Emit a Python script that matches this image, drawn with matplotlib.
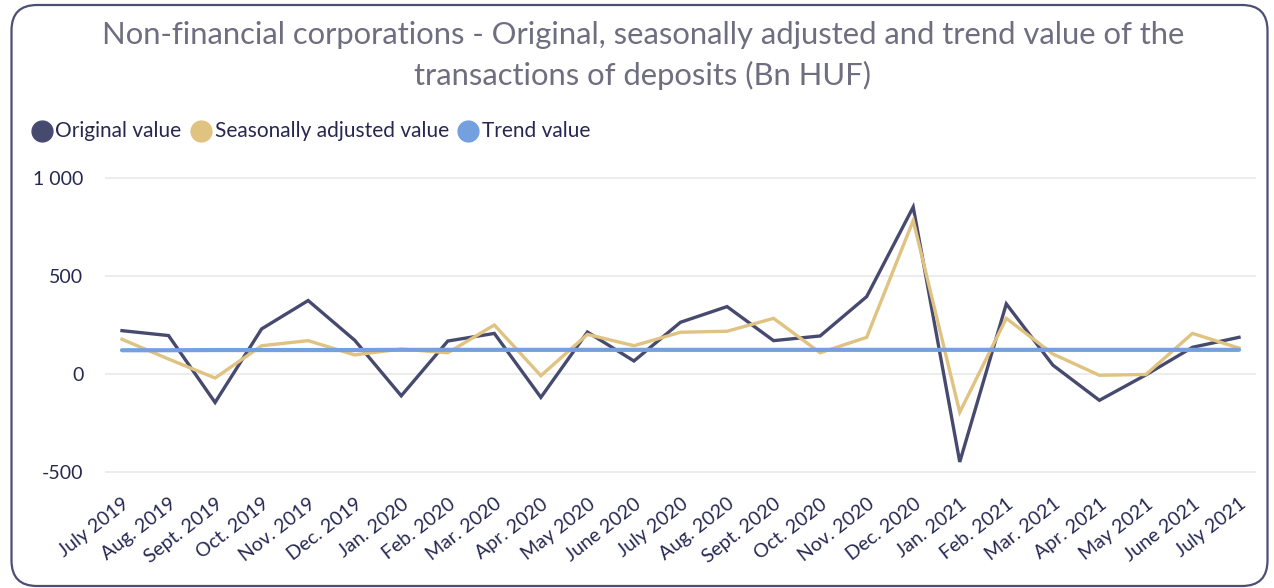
import matplotlib
matplotlib.use("Agg")
import matplotlib.pyplot as plt
from matplotlib.lines import Line2D
from matplotlib.patches import FancyBboxPatch
from matplotlib.transforms import ScaledTranslation

plt.rcParams['font.family'] = ['Lato', 'DejaVu Sans']

categories = ["July 2019", "Aug. 2019", "Sept. 2019", "Oct. 2019", "Nov. 2019", "Dec. 2019",
              "Jan. 2020", "Feb. 2020", "Mar. 2020", "Apr. 2020", "May 2020", "June 2020",
              "July 2020", "Aug. 2020", "Sept. 2020", "Oct. 2020", "Nov. 2020", "Dec. 2020",
              "Jan. 2021", "Feb. 2021", "Mar. 2021", "Apr. 2021", "May 2021", "June 2021", "July 2021"]
original = [220, 195, -147, 229, 374, 171, -113, 167, 206, -121, 213, 65,
            263, 343, 169, 193, 394, 852, -451, 357, 44, -136, -6, 135, 186]
seasonal = [176, 75, -22, 143, 169, 96, 126, 107, 249, -10, 201, 143,
            212, 217, 283, 107, 186, 783, -197, 283, 101, -8, -4, 206, 131]
trend = [120, 120, 121, 121, 121, 121, 122, 122, 122, 122, 122, 122,
         122, 122, 122, 122, 122, 122, 122, 122, 122, 122, 122, 122, 122]
series_names = ["Original value", "Seasonally adjusted value", "Trend value"]
yticks = [-500, 0, 500, 1000]
ytick_labels = ["-500", "0", "500", "1 000"]

C_ORIG = '#474A6F'
C_SEAS = '#E0C281'
C_TREND = '#74A0E0'
C_TEXT = '#262852'
C_TITLE = '#6E6E80'

W, H = 1274, 588
fig = plt.figure(figsize=(W / 100, H / 100), dpi=100)
fig.patch.set_facecolor('white')

border = FancyBboxPatch((11.5 / W, 1 - 586 / H), (1267.5 - 11.5) / W, (586 - 5) / H,
                        boxstyle="round,pad=0,rounding_size=0.02",
                        transform=fig.transFigure, facecolor='none',
                        edgecolor='#4C4E75', linewidth=1.6, mutation_aspect=W / H)
fig.patches.append(border)

ax = fig.add_axes([105 / W, 1 - 481.3 / H, (1256 - 105) / W, 313 / H])
x = list(range(len(categories)))
ax.plot(x, original, color=C_ORIG, lw=2.4, solid_joinstyle='miter', zorder=3)
ax.plot(x, seasonal, color=C_SEAS, lw=2.4, solid_joinstyle='miter', zorder=3)
ax.plot(x, trend, color=C_TREND, lw=3.0, solid_capstyle='round', zorder=4)

ax.set_xlim(-0.365, 24.365)
ax.set_ylim(-550, 1050)
ax.set_yticks(yticks)
ax.set_yticklabels(ytick_labels)
ax.set_xticks(x)
ax.set_xticklabels(categories, rotation=38, ha='right', va='top', rotation_mode='anchor')
shift = ScaledTranslation(-5 / 100, -1 / 100, fig.dpi_scale_trans)
for lbl in ax.get_xticklabels():
    lbl.set_transform(lbl.get_transform() + shift)
for sp in ax.spines.values():
    sp.set_visible(False)
ax.grid(axis='y', color='#EBEBEB', lw=1.3)
ax.set_axisbelow(True)
ax.tick_params(axis='y', length=0, pad=15.5, labelsize=14, labelcolor=C_TEXT)
ax.tick_params(axis='x', length=0, pad=10, labelsize=14, labelcolor=C_TEXT)

fig.text(643 / W, 1 - 35 / H,
         "Non-financial corporations - Original, seasonally adjusted and trend value of the",
         ha='center', va='center', fontsize=22.3, color=C_TITLE)
fig.text(643 / W, 1 - 75 / H, "transactions of deposits (Bn HUF)",
         ha='center', va='center', fontsize=22.3, color=C_TITLE)

# legend (drawn manually to match spacing)
leg_y = 1 - 131 / H
for cx, tx, col, name in zip((41.5, 201, 467.5), (55, 215, 482),
                             (C_ORIG, C_SEAS, C_TREND), series_names):
    fig.add_artist(Line2D([cx / W], [leg_y], ls='none', marker='o', ms=15,
                          color=col, transform=fig.transFigure))
    fig.text(tx / W, leg_y, name, ha='left', va='center', fontsize=15, color=C_TEXT)

fig.savefig('out.png', dpi=100)
